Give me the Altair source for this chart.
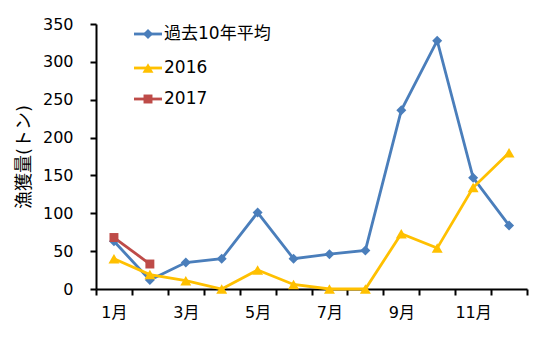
import altair as alt
import pandas as pd

months = list(range(1, 13))
series_names = ["過去10年平均", "2016", "2017"]
avg10 = [63, 12, 35, 40, 101, 40, 46, 51, 236, 328, 147, 84]
y2016 = [40, 19, 11, 0, 25, 6, 0, 0, 73, 54, 134, 180]
y2017 = [68, 33]
colors = ["#4A7EBB", "#FFC000", "#BE4B48"]
shapes = ["diamond", "triangle-up", "square"]
sizes = [100, 120, 80]
y_ticks = [0, 50, 100, 150, 200, 250, 300, 350]
x_ticks = [0.5 + i for i in range(13)] + [1, 3, 5, 7, 9, 11]
y_title = "漁獲量(トン)"

FONT = "DejaVu Sans, Noto Sans CJK JP"

rows = []
for name, vals in zip(series_names, [avg10, y2016, y2017]):
    for m, v in zip(months, vals):
        rows.append({"series": name, "month": m, "value": v})
df = pd.DataFrame(rows)

x_enc = alt.X(
    "month:Q",
    scale=alt.Scale(domain=[0.5, 12.5], nice=False, zero=False),
    axis=alt.Axis(
        values=sorted(x_ticks),
        labelExpr="datum.value % 2 == 1 ? datum.value + '月' : ''",
        labelOverlap=False,
        labelBound=False,
        labelFlush=False,
        tickOpacity={"condition": {"test": "datum.value % 1 == 0", "value": 0}, "value": 1},
        tickSize=6,
        tickWidth=2,
        tickColor="black",
        domainColor="black",
        domainWidth=2,
        labelPadding=9,
        labelFontSize=16,
        labelColor="black",
        grid=False,
        title=None,
    ),
)
y_enc = alt.Y(
    "value:Q",
    scale=alt.Scale(domain=[0, 350], nice=False),
    axis=alt.Axis(
        values=y_ticks,
        tickSize=6,
        tickWidth=2,
        tickColor="black",
        domainColor="black",
        domainWidth=2,
        labelPadding=17,
        labelFontSize=16,
        labelColor="black",
        grid=False,
        title=y_title,
        titleFontSize=18,
        titleFontWeight="normal",
        titleColor="black",
        titlePadding=9,
    ),
)
color_enc = alt.Color("series:N", scale=alt.Scale(domain=series_names, range=colors), legend=None)

base = alt.Chart(df)
lines = base.mark_line(strokeWidth=2.8).encode(x=x_enc, y=y_enc, color=color_enc, detail="series:N")
points = base.mark_point(filled=True, opacity=1).encode(
    x=x_enc,
    y=y_enc,
    color=color_enc,
    shape=alt.Shape("series:N", scale=alt.Scale(domain=series_names, range=shapes), legend=None),
    size=alt.Size("series:N", scale=alt.Scale(type="ordinal", domain=series_names, range=sizes), legend=None),
)

layers = [lines, points]
legend_y = [10, 44, 75]
for i, name in enumerate(series_names):
    ldf = pd.DataFrame({"series": [name]})
    lc = alt.Chart(ldf)
    layers.append(lc.mark_rule(color=colors[i], strokeWidth=2.8).encode(
        x=alt.value(38), x2=alt.value(66), y=alt.value(legend_y[i])))
    layers.append(lc.mark_point(filled=True, opacity=1, color=colors[i], shape=shapes[i], size=sizes[i]).encode(
        x=alt.value(52), y=alt.value(legend_y[i])))
    layers.append(lc.mark_text(align="left", baseline="middle", fontSize=17, color="black", font=FONT).encode(
        x=alt.value(68), y=alt.value(legend_y[i]), text="series:N"))

chart = alt.layer(*layers).properties(
    width=431,
    height=265,
    autosize=alt.AutoSizeParams(type="none"),
    padding={"left": 88, "top": 16, "right": 20, "bottom": 50},
    background="white",
).configure_view(stroke=None).configure_axis(labelFont=FONT, titleFont=FONT)

chart.save("out.html", embed_options={"renderer": "svg", "actions": False})
